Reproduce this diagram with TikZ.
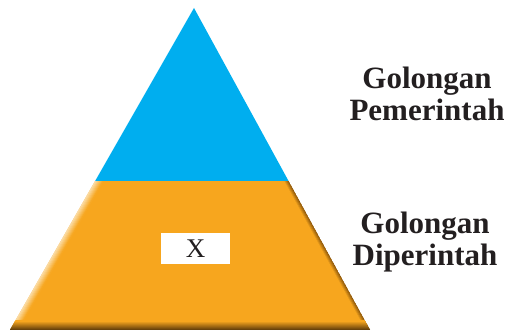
\documentclass[tikz,border=0pt]{standalone}
\usepackage{fontspec}
\setmainfont{Liberation Serif}
\usetikzlibrary{positioning,calc}
\definecolor{rulerblue}{RGB}{0,174,239}
\definecolor{ruledorange}{RGB}{247,166,30}
\definecolor{edgelight}{RGB}{252,226,180}
\definecolor{edgedark}{RGB}{120,72,8}
\definecolor{banddark}{RGB}{70,42,6}
\definecolor{labeltext}{RGB}{35,31,32}

\begin{document}
\begin{tikzpicture}[x=1pt, y=1pt,
  grouplabel/.style={align=center, text=labeltext, font=\fontsize{31}{32}\selectfont\bfseries}]
  \useasboundingbox (0,0) rectangle (511,331);
  \coordinate (apex) at (194,323);
  \coordinate (bl) at (10,1);
  \coordinate (br) at (370,1);
  \coordinate (dl) at ($(bl)!0.4627!(apex)$);
  \coordinate (dr) at ($(br)!0.4627!(apex)$);
  % upper part
  \fill[rulerblue] (dl) -- (apex) -- (dr) -- cycle;
  % lower part with its shaded edges
  \begin{scope}
    \clip (bl) -- (dl) -- (dr) -- (br) -- cycle;
    \fill[ruledorange] (bl) -- (dl) -- (dr) -- (br) -- cycle;
    \foreach \i in {0,...,8}
      \draw[line width=1.2pt, edgelight!\the\numexpr100-\i*12\relax!ruledorange] ($(bl)+(\i,0)$) -- ($(apex)+(\i,0)$);
    \foreach \i in {0,...,5}
      \draw[line width=1.2pt, edgedark!\the\numexpr90-\i*18\relax!ruledorange] ($(br)+(-\i,0)$) -- ($(apex)+(-\i,0)$);
    \foreach \i in {0,...,10}
      \draw[line width=1.2pt, banddark!\the\numexpr100-\i*10\relax!ruledorange] (0,\i) -- (511,\i);
  \end{scope}
  \node[fill=white, minimum width=69pt, minimum height=31pt, inner sep=0pt, text=labeltext, font=\fontsize{27}{27}\selectfont] (xbox) at (195.5,82.5) {X};
  \node[grouplabel] (pemerintah) at (427,237.5) {Golongan\\Pemerintah};
  \node[grouplabel] (diperintah) at (425,89) {Golongan\\Diperintah};
\end{tikzpicture}
\end{document}
